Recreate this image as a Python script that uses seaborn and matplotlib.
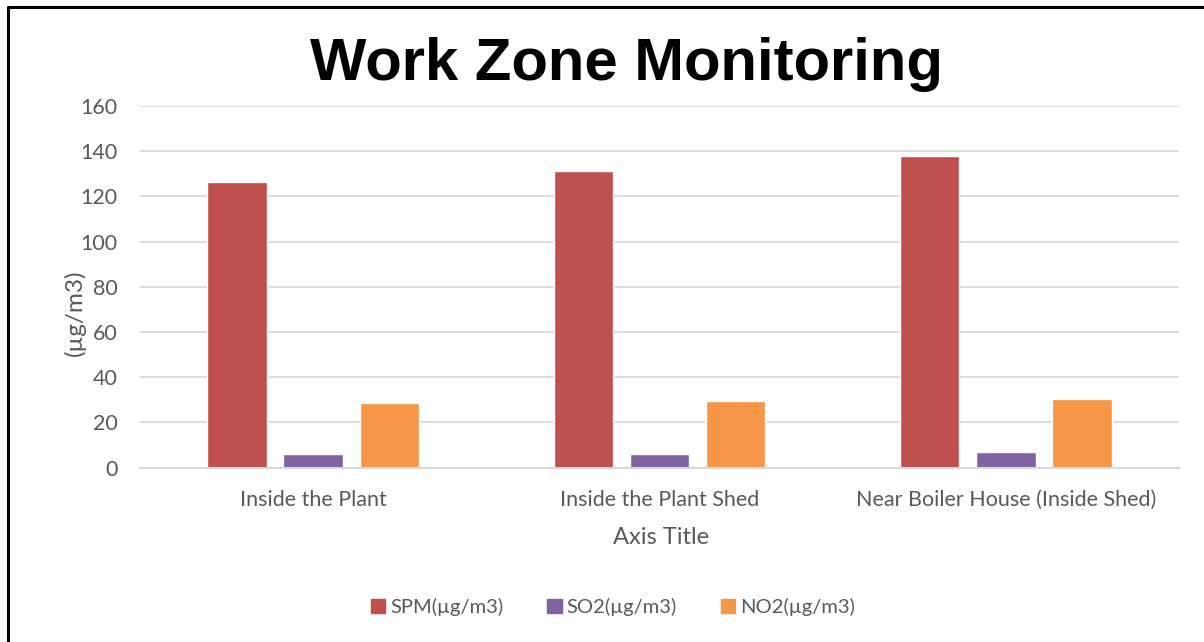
import pandas as pd
import matplotlib.pyplot as plt
import seaborn as sns
from matplotlib.lines import Line2D

# values
locations = ['Inside the Plant', 'Inside the Plant Shed', 'Near Boiler House (Inside Shed)']
spm = [126.3, 131.3, 137.8]
so2 = [6.0, 6.0, 7.0]
no2 = [28.5, 29.5, 30.5]
series_names = ['SPM(µg/m3)', 'SO2(µg/m3)', 'NO2(µg/m3)']
colors = ['#C0504D', '#8064A2', '#F79646']

df = pd.DataFrame({
    'location': locations * 3,
    'pollutant': [series_names[0]] * 3 + [series_names[1]] * 3 + [series_names[2]] * 3,
    'value': spm + so2 + no2,
})

sns.set_theme(style='white')
plt.rcParams['font.family'] = ['Lato', 'DejaVu Sans']
text_color = '#595959'
grid_color = '#D9D9D9'

fig = plt.figure(figsize=(12.04, 6.42), dpi=100)
ax = fig.add_axes([140 / 1204, 1 - 467.5 / 642, 1039 / 1204, 361.5 / 642])

sns.barplot(data=df, x='location', y='value', hue='pollutant',
            hue_order=series_names, palette=colors, order=locations,
            width=0.66, gap=0.22, saturation=1, ax=ax, legend=False)

ax.set_xlim(-0.5, 2.5)
ax.set_ylim(0, 160)
ax.set_yticks(range(0, 161, 20))
ax.yaxis.grid(True, color=grid_color, linewidth=1.3)
ax.set_axisbelow(True)
for side in ['top', 'right', 'left']:
    ax.spines[side].set_visible(False)
ax.spines['bottom'].set_color(grid_color)
ax.spines['bottom'].set_linewidth(1.5)
ax.tick_params(axis='both', length=0, labelsize=15.5, labelcolor=text_color)
ax.tick_params(axis='x', pad=16)
ax.tick_params(axis='y', pad=16)
ax.set_xlabel('')
ax.set_ylabel('')

fig.text(661 / 1204, 1 - 538 / 642, 'Axis Title', ha='center', va='center',
         fontsize=17, color=text_color)
fig.text(75 / 1204, 1 - 313 / 642, '(µg/m3)', ha='center', va='center',
         rotation=90, fontsize=17.5, color=text_color)
fig.text(626 / 1204, 1 - 80 / 642, 'Work Zone Monitoring', ha='center', va='baseline',
         fontsize=43, fontweight='bold', family=['Liberation Sans', 'DejaVu Sans'],
         color='black')

handles = [plt.Rectangle((0, 0), 1, 1, color=c) for c in colors]
fig.legend(handles, series_names, loc='center', ncol=3, frameon=False,
           bbox_to_anchor=(613 / 1204, 1 - 607 / 642), fontsize=14.5,
           labelcolor=text_color, handlelength=0.7, handleheight=0.7,
           handletextpad=0.25, columnspacing=2.2)

# border of the chart (top and left edges visible)
fig.add_artist(Line2D([8 / 1204, 1], [1 - 7 / 642, 1 - 7 / 642], color='black',
                      linewidth=2.2, transform=fig.transFigure))
fig.add_artist(Line2D([8 / 1204, 8 / 1204], [0, 1 - 7 / 642], color='black',
                      linewidth=2.2, transform=fig.transFigure))

fig.savefig('out.png', dpi=100, facecolor='white')
